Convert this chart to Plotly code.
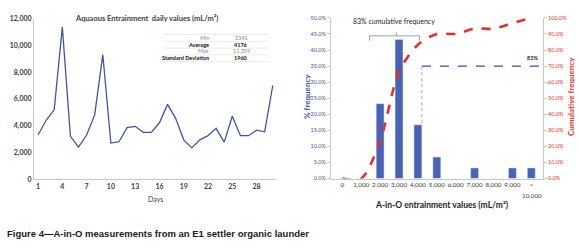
import plotly.graph_objects as go

W, H = 579, 249

# ---------------- data ----------------
days = list(range(1, 31))
daily_values = [3300, 4400, 5200, 11359, 3200, 2400, 3300, 4800, 9300, 2700,
                2800, 3850, 3950, 3500, 3500, 4215, 5590, 4550, 2940, 2341,
                2940, 3250, 3800, 2770, 4700, 3250, 3250, 3660, 3540, 7000]
day_ticks = [1, 4, 7, 10, 13, 16, 19, 22, 25, 28]

stat_labels = ["Min", "Average", "Max", "Standard Deviation"]
stat_values = ["2341", "4176", "11,359", "1960"]

bin_labels = ["0", "1,000", "2,000", "3,000", "4,000", "5,000", "6,000",
              "7,000", "8,000", "9,000", ">"]
last_bin_second_line = "10,000"
pct_frequency = [0, 0, 23.3, 43.3, 16.7, 6.7, 0, 3.3, 0, 3.3, 3.3]
cum_frequency = [0, 0, 23.3, 66.7, 83.3, 90.0, 90.0, 93.3, 93.3, 96.7, 100.0]

left_yticks = [0, 2000, 4000, 6000, 8000, 10000, 12000]
pct_ticks = [0, 5, 10, 15, 20, 25, 30, 35, 40, 45, 50]
cum_ticks = [0, 10, 20, 30, 40, 50, 60, 70, 80, 90, 100]

# ---------------- helpers ----------------
def px(x):
    return x / W

def py(y):
    return 1 - y / H

FONT = "Lato"
CAP_FONT = "Liberation Sans"
LINE_BLUE = "#44549c"
BAR_BLUE = "#4862b4"
RED = "#e3302b"
AX_BLUE = "#3f4f9f"
GREY_TXT = "#404040"

fig = go.Figure()

# left line chart
fig.add_trace(go.Scatter(x=days, y=daily_values, mode="lines",
                         line=dict(color=LINE_BLUE, width=1.3),
                         xaxis="x", yaxis="y", showlegend=False))

# right histogram
xi = list(range(len(bin_labels)))
fig.add_trace(go.Bar(x=xi, y=pct_frequency, width=0.42, marker_color=BAR_BLUE,
                     xaxis="x2", yaxis="y2", showlegend=False))
fig.add_trace(go.Scatter(x=xi, y=cum_frequency, mode="lines",
                         line=dict(color=RED, width=2.6, dash="dash",
                                   shape="spline", smoothing=0.8),
                         xaxis="x2", yaxis="y3", showlegend=False))

tickf = dict(family=FONT, size=7, color=GREY_TXT, weight="bold")

fig.update_layout(
    width=W, height=H,
    margin=dict(l=0, r=0, t=0, b=0),
    paper_bgcolor="white", plot_bgcolor="white",
    xaxis=dict(domain=[px(34), px(276)], range=[0.5, 30.4],
               tickvals=day_ticks, ticktext=[str(d) for d in day_ticks],
               showgrid=False, zeroline=False, showline=True,
               linecolor="#c8c8c8", linewidth=1, ticks="",
               tickfont=tickf, anchor="y"),
    yaxis=dict(domain=[py(180), py(14)], range=[0, 12000],
               tickvals=left_yticks, tickformat=",",
               showgrid=False, zeroline=False, showline=True,
               linecolor="#c8c8c8", linewidth=1, ticks="",
               tickfont=tickf, anchor="x"),
    xaxis2=dict(domain=[px(331), px(543)], range=[-0.6, 10.62],
                tickvals=xi, ticktext=bin_labels,
                showgrid=False, zeroline=False, showline=True,
                linecolor="#c8c8c8", linewidth=1, ticks="",
                tickfont=dict(family=FONT, size=6.3, color=GREY_TXT),
                anchor="y2"),
    yaxis2=dict(domain=[py(179.3), py(13.3)], range=[0, 50],
                tickvals=pct_ticks, ticktext=[f"{v:.1f}%" for v in pct_ticks],
                showgrid=False, zeroline=False, showline=True,
                linecolor="#c8c8c8", linewidth=1, ticks="outside",
                ticklen=3, tickcolor="#c8c8c8",
                tickfont=dict(family=FONT, size=5.5, color=AX_BLUE),
                anchor="x2"),
    yaxis3=dict(domain=[py(179.3), py(13.3)], range=[0, 100], overlaying="y2",
                side="right", anchor="x2",
                tickvals=cum_ticks, ticktext=[f"{v:.1f}%" for v in cum_ticks],
                showgrid=False, zeroline=False, showline=True,
                linecolor="#c8c8c8", linewidth=1, ticks="outside",
                ticklen=3, tickcolor="#c8c8c8",
                tickfont=dict(family=FONT, size=5.5, color=RED)),
)

ann = []
shapes = []

def note(x, y, text, font, xanchor="center", xref="paper", yref="paper", **kw):
    ann.append(dict(x=x, y=y, xref=xref, yref=yref, text=text, showarrow=False,
                    xanchor=xanchor, yanchor="middle", font=font, **kw))

# left chart title
note(px(146), py(14), "Aquaous Entrainment  daily values (mL/m²)",
     dict(family=FONT, size=7.5, color=GREY_TXT, weight="bold"))
note(px(155), py(200), "Days", dict(family=FONT, size=7, color=GREY_TXT))

# statistics table
row_y = [34, 41, 48, 55]
for i, (lab, val) in enumerate(zip(stat_labels, stat_values)):
    bold = lab in ("Average", "Standard Deviation")
    col = "#111111" if bold else "#8a8a8a"
    f = dict(family=FONT, size=5.5, color=col, weight="bold" if bold else "normal")
    note(px(211), py(row_y[i]), lab, f, xanchor="right")
    note(px(241), py(row_y[i]), val, f)
for ly in [30.5, 37.5, 44.5, 51.5, 58.5]:
    shapes.append(dict(type="line", xref="paper", yref="paper",
                       x0=px(163), x1=px(268), y0=py(ly), y1=py(ly),
                       line=dict(color="#e2e2e2", width=0.7)))

# right chart annotations
note(px(532), py(196.5), last_bin_second_line,
     dict(family=FONT, size=6.3, color=GREY_TXT))
note(px(442), py(207), "A-in-O entrainment values (mL/m²)",
     dict(family=FONT, size=8.5, color="#222222", weight="bold"))
note(px(307), py(95), "% frequency",
     dict(family=FONT, size=8, color=AX_BLUE, weight="bold"), textangle=-90)
note(px(571), py(95), "Cumulative frequency",
     dict(family=FONT, size=8, color=RED, weight="bold"), textangle=-90)
note(2.72, 48.9, "83% cumulative frequency",
     dict(family=FONT, size=7, color="#222222"), xref="x2", yref="y2")
note(10.05, 37.6, "83%",
     dict(family=FONT, size=5.5, color="#222222", weight="bold"), xref="x2", yref="y2")

# bracket
brk = dict(color="#8fa0c8", width=1)
shapes += [
    dict(type="line", xref="x2", yref="y2", x0=1.44, x1=4.09, y0=44.4, y1=44.4, line=brk),
    dict(type="line", xref="x2", yref="y2", x0=1.44, x1=1.44, y0=44.4, y1=42.9, line=brk),
    dict(type="line", xref="x2", yref="y2", x0=4.09, x1=4.09, y0=44.4, y1=42.9, line=brk),
    dict(type="line", xref="x2", yref="y2", x0=2.86, x1=2.86, y0=44.4, y1=45.5, line=brk),
]
# 83% guide lines
shapes.append(dict(type="line", xref="x2", yref="y2", x0=4.21, x1=10.62,
                   y0=35, y1=35, line=dict(color="#3a4aa8", width=1.2, dash="dash")))
shapes.append(dict(type="line", xref="x2", yref="y2", x0=4.21, x1=4.21,
                   y0=35, y1=17.0, line=dict(color="#9aa0b8", width=0.9, dash="dot")))

# caption
note(px(5), py(236), "Figure 4—A-in-O measurements from an E1 settler organic launder",
     dict(family=CAP_FONT, size=9.5, color="#1a1a1a", weight="bold"), xanchor="left")

fig.update_layout(annotations=ann, shapes=shapes)
fig.write_html("out.html", config={"displayModeBar": False},
               post_script="document.body.style.margin='0';document.body.style.overflow='hidden';")
